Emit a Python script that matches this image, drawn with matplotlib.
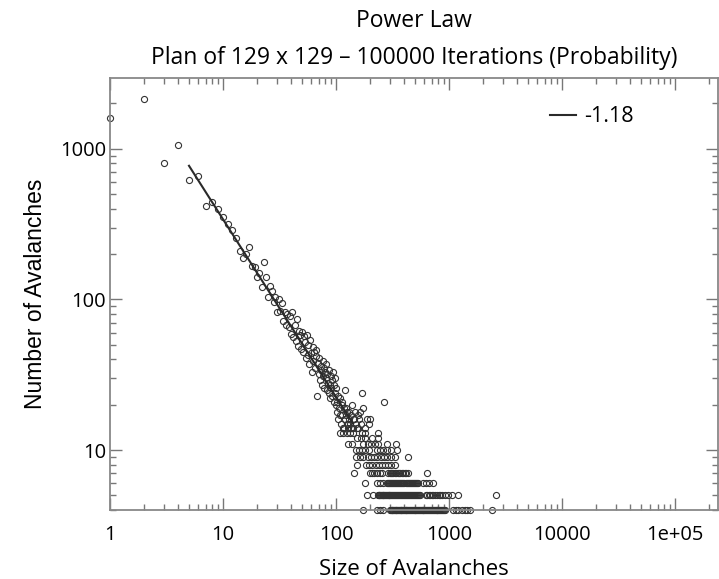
import matplotlib
matplotlib.use("Agg")
import matplotlib.pyplot as plt
from matplotlib.ticker import FixedLocator, FixedFormatter, LogLocator, NullFormatter

# avalanche sizes 1..100, one count per size
head_sizes = list(range(1, 101))
head_counts = [
    1604, 2141, 808, 1063, 623, 662, 419, 446, 401, 354,
    319, 291, 254, 211, 187, 201, 224, 166, 163, 140,
    150, 121, 176, 140, 104, 122, 113, 96, 103, 82,
    101, 84, 95, 72, 82, 68, 80, 66, 78, 59,
    82, 56, 68, 53, 74, 49, 62, 58, 47, 61,
    45, 57, 52, 41, 58, 43, 50, 37, 54, 44,
    33, 48, 39, 45, 35, 42, 46, 23, 38, 32,
    41, 29, 36, 34, 27, 39, 31, 35, 26, 33,
    30, 37, 25, 32, 28, 24, 34, 27, 22, 31,
    26, 23, 29, 33, 21, 27, 24, 30, 20, 26,
]

# sizes 100-270 with counts above 13
mid_sizes = [101, 103, 105, 106, 108, 110, 112, 113, 115, 117, 119, 120, 122, 124,
             126, 128, 130, 133, 135, 138, 140, 143, 147, 150, 155, 160, 163, 170,
             175, 188, 200, 266, 104, 109, 114, 118, 123, 127, 131, 136, 145, 152,
             158, 166, 182, 195]
mid_counts = [18, 21, 16, 19, 22, 15, 20, 17, 14, 19, 16, 25, 17, 15,
              18, 14, 16, 15, 17, 20, 14, 16, 18, 15, 14, 16, 18, 24,
              19, 16, 16, 21, 23, 17, 21, 14, 19, 15, 18, 14, 16, 14,
              17, 15, 14, 15]

# tail: sizes found at each small count
sizes_at_13 = [108, 116, 124, 132, 141, 170, 180, 235]
sizes_at_12 = [153, 165, 180, 208, 235]
sizes_at_11 = [127, 138, 175, 190, 205, 220, 235, 280, 340]
sizes_at_10 = [150, 160, 170, 182, 195, 230, 245, 262, 282, 305, 345]
sizes_at_9 = [150, 162, 175, 190, 203, 217, 232, 248, 265, 285, 305, 330, 430]
sizes_at_8 = [153, 185, 197, 210, 224, 238, 253, 270, 288, 308, 330]
sizes_at_7 = [144, 200, 208, 215, 230, 245, 255, 290, 298, 305, 314, 322, 331, 340,
              350, 360, 370, 380, 392, 405, 418, 430, 640]
sizes_at_6 = [180, 230, 243, 258, 280, 286, 292, 298, 305, 311, 318, 325, 332, 340,
              347, 355, 362, 370, 378, 386, 395, 403, 412, 421, 430, 440, 450, 460,
              470, 480, 490, 500, 510, 520, 530, 585, 625, 670, 720]
sizes_at_5 = [188, 212, 234, 238, 242, 246, 250, 254, 258, 262, 267, 272, 277, 282,
              287, 292, 297, 303, 309, 315, 321, 327, 333, 340, 347, 354, 361, 368,
              375, 383, 391, 399, 407, 415, 424, 433, 442, 451, 460, 470, 480, 490,
              500, 511, 522, 533, 545, 550, 620, 640, 660, 680, 700, 725, 750, 780,
              810, 840, 870, 920, 985, 1060, 1200, 2600]
sizes_at_4 = [174, 230, 246, 262, 300, 305, 310, 315, 320, 325, 330, 336, 342, 348,
              354, 360, 366, 372, 378, 385, 392, 399, 406, 413, 420, 428, 436, 444,
              452, 460, 468, 477, 486, 495, 504, 513, 522, 532, 542, 552, 562, 572,
              583, 594, 605, 616, 627, 640, 652, 665, 678, 690, 703, 716, 730, 745,
              760, 775, 790, 805, 820, 836, 852, 868, 885, 902, 920,
              1090, 1150, 1210, 1290, 1380, 1450, 1530, 2400]

tail_rows = [(13, sizes_at_13), (12, sizes_at_12), (11, sizes_at_11), (10, sizes_at_10),
             (9, sizes_at_9), (8, sizes_at_8), (7, sizes_at_7), (6, sizes_at_6),
             (5, sizes_at_5), (4, sizes_at_4)]

# fitted power law, slope -1.18
fit_sizes = [5, 141]
fit_counts = [771, 15.0]
fit_label = "-1.18"

x_tick_values = [1, 10, 100, 1000, 10000, 100000]
x_tick_labels = ["1", "10", "100", "1000", "10000", "1e+05"]
y_tick_values = [10, 100, 1000]
y_tick_labels = ["10", "100", "1000"]

sizes = list(head_sizes) + list(mid_sizes)
counts = list(head_counts) + list(mid_counts)
for c, row in tail_rows:
    sizes += row
    counts += [c] * len(row)

plt.rcParams['font.family'] = ['Open Sans', 'DejaVu Sans']

fig = plt.figure(figsize=(7.19, 5.79), dpi=100)
ax = fig.add_axes([0.153, 0.1192, 0.8456, 0.7461])

ax.plot(sizes, counts, 'o', markersize=4.4, markerfacecolor='none',
        markeredgecolor='#333333', markeredgewidth=0.8, linestyle='none', clip_on=False)
ax.plot(fit_sizes, fit_counts, '-', color='#2a2a2a', linewidth=1.5, label=fit_label)

ax.set_xscale('log')
ax.set_yscale('log')
ax.set_xlim(1, 10 ** 5.38)
ax.set_ylim(4, 2950)

ax.xaxis.set_major_locator(FixedLocator(x_tick_values))
ax.xaxis.set_major_formatter(FixedFormatter(x_tick_labels))
ax.yaxis.set_major_locator(FixedLocator(y_tick_values))
ax.yaxis.set_major_formatter(FixedFormatter(y_tick_labels))
ax.xaxis.set_minor_locator(LogLocator(base=10, subs=range(2, 10), numticks=20))
ax.yaxis.set_minor_locator(LogLocator(base=10, subs=range(2, 10), numticks=20))
ax.xaxis.set_minor_formatter(NullFormatter())
ax.yaxis.set_minor_formatter(NullFormatter())

ax.tick_params(which='both', direction='in', top=True, right=True, color='#777777',
               width=1.0, labelsize=14.5, labelcolor='black')
ax.tick_params(which='major', length=8.5)
ax.tick_params(which='minor', length=4.3)
ax.tick_params(axis='x', which='major', pad=11)
ax.tick_params(axis='y', which='major', pad=3)
for sp in ax.spines.values():
    sp.set_color('#888888')
    sp.set_linewidth(1.3)

ax.set_xlabel('Size of Avalanches', fontsize=16, labelpad=10)
ax.set_ylabel('Number of Avalanches', fontsize=16.5, labelpad=9, family='Liberation Sans')

fig.text(0.576, 0.963, 'Power Law', ha='center', va='center', fontsize=16.5)
fig.text(0.576, 0.899, 'Plan of 129 x 129 \u2013 100000 Iterations (Probability)',
         ha='center', va='center', fontsize=16.5)

ax.legend(loc='upper right', bbox_to_anchor=(0.875, 0.955), frameon=False,
          fontsize=15.5, handlelength=1.2, handletextpad=0.35, borderaxespad=0)

fig.savefig('out.png', dpi=100)
